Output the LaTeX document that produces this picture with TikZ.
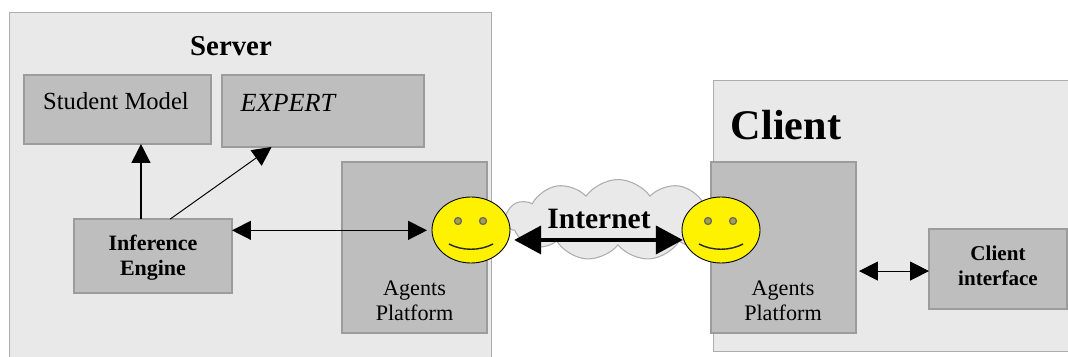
\documentclass[tikz,border=0pt]{standalone}
\usepackage{fontspec}
\setmainfont{Liberation Serif}
\usepackage{xcolor}
\usetikzlibrary{arrows.meta}
\usetikzlibrary{shapes.geometric}
\usetikzlibrary{shapes.symbols}
\definecolor{panelfill}{HTML}{E9E9E9}
\definecolor{panelline}{HTML}{ADADAD}
\definecolor{boxfill}{HTML}{BEBEBE}
\definecolor{boxline}{HTML}{9C9C9C}
\tikzset{
    panel/.style = {rectangle, draw=panelline, fill=panelfill, line width=0.6pt, outer sep=0pt},
    mybox/.style = {rectangle, draw=boxline, fill=boxfill, line width=0.7pt, outer sep=0pt, inner sep=0pt, align=center},
    mysmiley/.style = {ellipse, draw=black, fill=yellow, line width=0.5pt, outer sep=0pt, inner sep=0pt, minimum width=1.56cm, minimum height=1.32cm},
    myeye/.style = {circle, draw=black!60, fill=yellow!60!black, line width=0.7pt, inner sep=0pt, minimum size=0.14cm},
    mysmile/.style = {line width=0.8pt, black!85},
    mytext/.style = {align=center, inner sep=0pt, font=\fontsize{12.6}{14.2}\selectfont},
    edgea/.style = {-{Triangle[length=0.38cm,width=0.38cm]}, line width=0.75pt, black},
    edgeb/.style = {{Triangle[length=0.38cm,width=0.38cm]}-{Triangle[length=0.38cm,width=0.38cm]}, line width=0.75pt, black},
    edgei/.style = {{Triangle[length=0.54cm,width=0.56cm]}-{Triangle[length=0.54cm,width=0.56cm]}, line width=2.3pt, black},
}
\begin{document}
\begin{tikzpicture}[x=0.02cm,y=-0.02cm]
\useasboundingbox (0,0) rectangle (1068,356);
\fill[white] (0,0) rectangle (1068,356);
% panels
\node[panel, minimum width=9.66cm, minimum height=7.6cm] at (250.5,202) (server) {};
\node[panel, minimum width=8cm, minimum height=5.42cm] at (913,216) (client) {};
\node[font=\fontsize{16.4}{18}\selectfont\bfseries, inner sep=0pt] at (231,46) (tserver) {Server};
\node[font=\fontsize{24}{26}\selectfont\bfseries, inner sep=0pt] at (786,125) (tclient) {Client};
% cloud
\node[cloud, cloud puffs=11, cloud puff arc=110, draw=panelline, fill=panelfill, line width=0.6pt, inner sep=0pt, minimum width=4.5cm, minimum height=1.62cm] at (618,220) (cloud) {};
% boxes
\node[mybox, minimum width=3.74cm, minimum height=1.38cm] at (117.5,109.5) (student) {};
\node[mybox, minimum width=4.04cm, minimum height=1.44cm] at (323,111) (expert) {};
\node[mybox, minimum width=2.9cm, minimum height=3.42cm] at (414.5,247.5) (agentsl) {};
\node[mybox, minimum width=2.9cm, minimum height=3.42cm] at (783.5,247.5) (agentsr) {};
\node[mybox, minimum width=3.16cm, minimum height=1.48cm] at (153,256) (infer) {};
\node[mybox, minimum width=2.76cm, minimum height=1.6cm] at (998,269) (cinter) {};
\node[mytext, font=\fontsize{14}{16}\selectfont] at (116,101) (tstudent) {Student Model};
\node[mytext, font=\fontsize{14.9}{16}\selectfont\itshape] at (288,103) (texpert) {EXPERT};
\node[mytext, font=\fontsize{12.5}{14.2}\selectfont\bfseries] at (153,258) (tinfer) {Inference\\Engine};
\node[mytext, font=\fontsize{12}{14.2}\selectfont\bfseries] at (998,266) (tcinter) {Client\\interface};
\node[mytext] at (414.5,301) (tagentsl) {Agents\\Platform};
\node[mytext] at (783,301) (tagentsr) {Agents\\Platform};
% smileys
\node[mysmiley] at (471,230) (smileyl) {};
\node[myeye] at (458,221) (eyela) {};
\node[myeye] at (483,221) (eyelb) {};
\draw[mysmile] (449,244) .. controls (462,251) and (480,251) .. (493,244);
\node[mysmiley] at (721,230) (smileyr) {};
\node[myeye] at (708,221) (eyera) {};
\node[myeye] at (733,221) (eyerb) {};
\draw[mysmile] (699,244) .. controls (712,251) and (730,251) .. (743,244);
%
\draw[edgea] (infer.108) -- (infer.108 |- student.south);
\draw[edgea, line width=0.55pt] (infer.65) -- (expert.215.2);
\draw[edgeb, shorten >=0.1cm] (infer.18.2) -- (infer.18.2 -| smileyl.west);
\draw[edgeb, line width=0.6pt, shorten <=0.06cm] (agentsr.-18.7) -- (agentsr.-18.7 -| cinter.west);
%
\node[font=\fontsize{16.8}{18}\selectfont\bfseries, inner sep=0pt] at (599,219) (tinternet) {Internet};
\draw[edgei, shorten <=0.12cm, shorten >=0.02cm] (smileyl.-15.1) -- (smileyr.195.1);
\end{tikzpicture}
\end{document}
